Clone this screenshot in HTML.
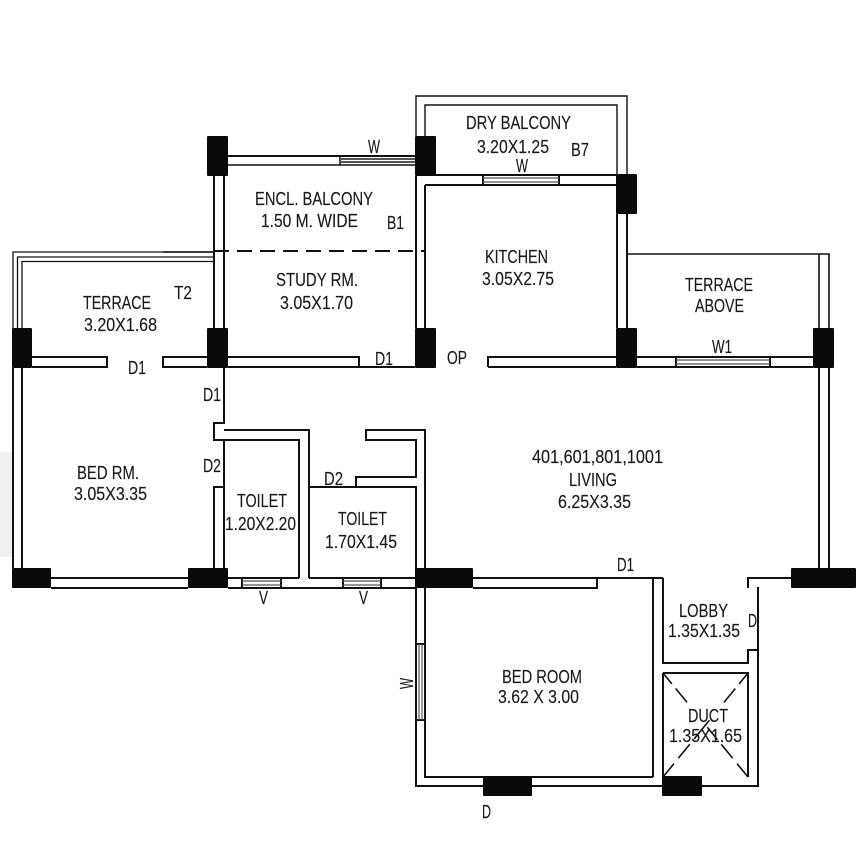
<!DOCTYPE html>
<html><head><meta charset="utf-8"><style>
html,body{margin:0;padding:0;background:#fff}
svg{display:block}
text{font-family:"Liberation Sans Narrow","Liberation Sans",sans-serif;font-size:18.5px;fill:#1a1a1a;stroke:#1a1a1a;stroke-width:.15}
</style></head><body>
<svg width="866" height="866" viewBox="0 0 866 866" xmlns="http://www.w3.org/2000/svg">
<rect width="866" height="866" fill="#fff"/>
<rect x="0" y="452" width="13" height="105" fill="#f0f0f0"/>
<g fill="none" stroke="#111" stroke-width="2">
<!-- enclosed balcony -->
<path d="M228 156H415"/>
<path d="M228 165H415M340 156V165" stroke-width="1.6"/>
<path d="M214 176V328M224 176V328"/>
<path d="M416 176V328M425 185V328"/>
<path d="M214 251H425" stroke-dasharray="15 8"/>
<!-- terrace T2 -->
<path d="M214 252H13V328M214 257H17.500V328M214 261.500H22V328" stroke-width="1.3"/>
<path d="M163 252H214" stroke-width="1.6"/>
<path d="M32 357H107V367H32M207 357H163V367H207"/>
<path d="M228 357H359V367H228M359 367H415"/>
<!-- dry balcony -->
<path d="M416 136V96H627V174M425 136V105H617V175" stroke-width="1.4"/>
<path d="M425 175H616M425 185H616M483 175V185M559 175V185"/>
<path d="M617 214V328M627 214V328"/>
<!-- terrace above -->
<path d="M627 254H829V328M819 254V328" stroke-width="1.6"/>
<path d="M488 367V357H616M488 367H616"/>
<path d="M637 357H813M637 367H813M676 357V367M770 357V367"/>
<!-- outer walls -->
<path d="M13 368V568M22 368V568M819 368V568M829 368V568"/>
<!-- central walls -->
<path d="M224 368V423H214V440H224M224 430H309V578M214 440H299V578"/>
<path d="M224 440V568M214 568V487H224"/>
<path d="M51 578H188M51 588H188"/>
<path d="M228 578H299M309 578H416M228 588H416M242 578V588M281 578V588M343 578V588M381 578V588"/>
<path d="M309 487H416V578M356 487V477H416V440H366V430H425V568"/>
<!-- bed room -->
<path d="M416 588V644M425 588V777H653M416 720V786H483M532 786H662M702 786H758V587"/>
<path d="M416 644H425M416 720H425M416 644V720"/>
<path d="M473 578H663M473 588H597V578"/>
<path d="M653 578V777M663 578V663H748V650H758"/>
<path d="M748 588V578H791"/>
<!-- duct -->
<path d="M663 673H748V777M663 673V777"/>
<path d="M663 673L748 777" stroke-width="1.6" stroke-dasharray="14 6 18 32 16 6 18 7 18"/>
<path d="M748 673L663 777" stroke-width="1.6" stroke-dasharray="14 6 18 23 24 7 18 7 18"/>
</g>
<!-- window infill -->
<g stroke="#555" stroke-width="1.2" fill="none">
<path d="M340 159H415M340 162H415" stroke-width="2"/>
<path d="M483 178H559M483 182H559"/>
<path d="M676 360H770M676 364H770"/>
<path d="M242 581H281M242 585H281M343 581H381M343 585H381"/>
<path d="M419 644V720M422 644V720"/>
</g>
<!-- columns -->
<g fill="#0a0a0a">
<rect x="207" y="136" width="21" height="40" rx="1"/>
<rect x="415" y="136" width="21" height="40" rx="1"/>
<rect x="12" y="328" width="20" height="40" rx="1"/>
<rect x="207" y="328" width="21" height="40" rx="1"/>
<rect x="415" y="328" width="21" height="40" rx="1"/>
<rect x="616" y="174" width="21" height="40" rx="1"/>
<rect x="616" y="328" width="21" height="40" rx="1"/>
<rect x="813" y="328" width="21" height="40" rx="1"/>
<rect x="12" y="568" width="39" height="20" rx="1"/>
<rect x="188" y="568" width="40" height="20" rx="1"/>
<rect x="415" y="568" width="58" height="20" rx="1"/>
<rect x="791" y="568" width="65" height="20" rx="1"/>
<rect x="483" y="776" width="49" height="20" rx="1"/>
<rect x="662" y="776" width="40" height="20" rx="1"/>
</g>
<g>
<text x="255" y="205" textLength="118" lengthAdjust="spacingAndGlyphs">ENCL. BALCONY</text>
<text x="261" y="227" textLength="97" lengthAdjust="spacingAndGlyphs">1.50 M. WIDE</text>
<text x="387" y="229" textLength="17" lengthAdjust="spacingAndGlyphs">B1</text>
<text x="368" y="153" textLength="12" lengthAdjust="spacingAndGlyphs">W</text>
<text x="276" y="286" textLength="82" lengthAdjust="spacingAndGlyphs">STUDY RM.</text>
<text x="280" y="309" textLength="73" lengthAdjust="spacingAndGlyphs">3.05X1.70</text>
<text x="83" y="309" textLength="68" lengthAdjust="spacingAndGlyphs">TERRACE</text>
<text x="84" y="331" textLength="73" lengthAdjust="spacingAndGlyphs">3.20X1.68</text>
<text x="174" y="299" textLength="18" lengthAdjust="spacingAndGlyphs">T2</text>
<text x="128" y="374" textLength="18" lengthAdjust="spacingAndGlyphs">D1</text>
<text x="375" y="365" textLength="18" lengthAdjust="spacingAndGlyphs">D1</text>
<text x="466" y="129" textLength="105" lengthAdjust="spacingAndGlyphs">DRY BALCONY</text>
<text x="477" y="153" textLength="72" lengthAdjust="spacingAndGlyphs">3.20X1.25</text>
<text x="571" y="156" textLength="18" lengthAdjust="spacingAndGlyphs">B7</text>
<text x="516" y="172" textLength="12" lengthAdjust="spacingAndGlyphs">W</text>
<text x="485" y="263" textLength="63" lengthAdjust="spacingAndGlyphs">KITCHEN</text>
<text x="482" y="285" textLength="72" lengthAdjust="spacingAndGlyphs">3.05X2.75</text>
<text x="685" y="291" textLength="68" lengthAdjust="spacingAndGlyphs">TERRACE</text>
<text x="695" y="312" textLength="49" lengthAdjust="spacingAndGlyphs">ABOVE</text>
<text x="712" y="353" textLength="20" lengthAdjust="spacingAndGlyphs">W1</text>
<text x="447" y="364" textLength="20" lengthAdjust="spacingAndGlyphs">OP</text>
<text x="203" y="401" textLength="18" lengthAdjust="spacingAndGlyphs">D1</text>
<text x="203" y="472" textLength="18" lengthAdjust="spacingAndGlyphs">D2</text>
<text x="77" y="479" textLength="62" lengthAdjust="spacingAndGlyphs">BED RM.</text>
<text x="74" y="500" textLength="73" lengthAdjust="spacingAndGlyphs">3.05X3.35</text>
<text x="237" y="507" textLength="50" lengthAdjust="spacingAndGlyphs">TOILET</text>
<text x="225" y="530" textLength="71" lengthAdjust="spacingAndGlyphs">1.20X2.20</text>
<text x="324" y="485" textLength="19" lengthAdjust="spacingAndGlyphs">D2</text>
<text x="338" y="525" textLength="49" lengthAdjust="spacingAndGlyphs">TOILET</text>
<text x="325" y="548" textLength="72" lengthAdjust="spacingAndGlyphs">1.70X1.45</text>
<text x="259" y="604" textLength="9" lengthAdjust="spacingAndGlyphs">V</text>
<text x="359" y="604" textLength="9" lengthAdjust="spacingAndGlyphs">V</text>
<text x="617" y="571" textLength="17" lengthAdjust="spacingAndGlyphs">D1</text>
<text x="679" y="617" textLength="49" lengthAdjust="spacingAndGlyphs">LOBBY</text>
<text x="668" y="637" textLength="72" lengthAdjust="spacingAndGlyphs">1.35X1.35</text>
<text x="748" y="627" textLength="9" lengthAdjust="spacingAndGlyphs">D</text>
<text x="532" y="463" textLength="131" lengthAdjust="spacingAndGlyphs">401,601,801,1001</text>
<text x="569" y="486" textLength="48" lengthAdjust="spacingAndGlyphs">LIVING</text>
<text x="558" y="508" textLength="73" lengthAdjust="spacingAndGlyphs">6.25X3.35</text>
<text x="502" y="683" textLength="80" lengthAdjust="spacingAndGlyphs">BED ROOM</text>
<text x="498" y="703" textLength="81" lengthAdjust="spacingAndGlyphs">3.62 X 3.00</text>
<text x="688" y="722" textLength="40" lengthAdjust="spacingAndGlyphs">DUCT</text>
<text x="669" y="742" textLength="73" lengthAdjust="spacingAndGlyphs">1.35X1.65</text>
<text x="482" y="818" textLength="9" lengthAdjust="spacingAndGlyphs">D</text>
<text transform="translate(413 689) rotate(-90)" x="0" y="0" textLength="11" lengthAdjust="spacingAndGlyphs">W</text>
</g>
</svg>
</body></html>
